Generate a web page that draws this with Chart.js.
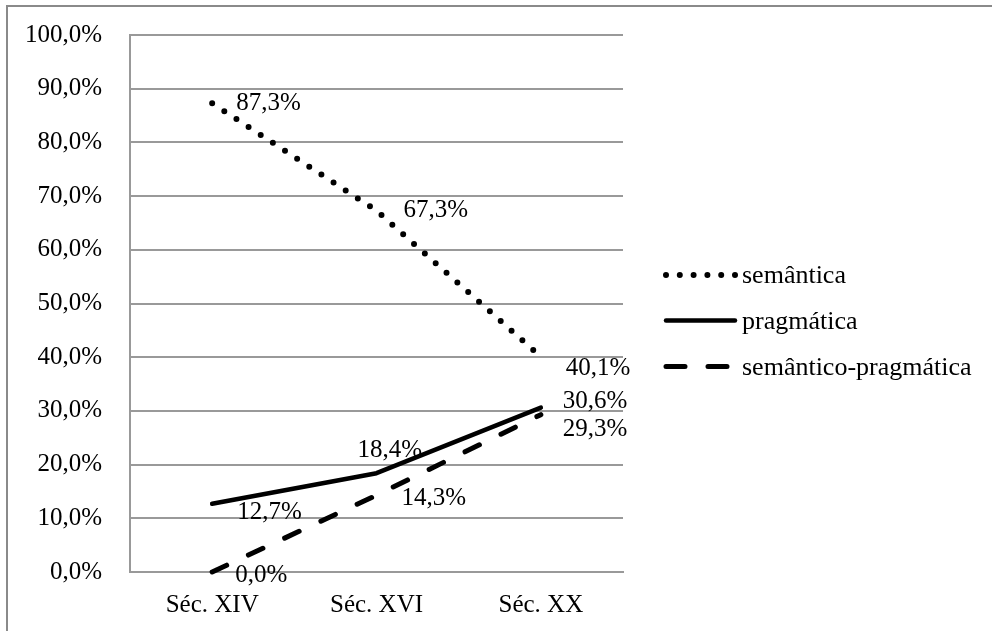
<!DOCTYPE html>
<html>
<head>
<meta charset="utf-8">
<script src="https://cdn.jsdelivr.net/npm/chart.js@4/dist/chart.umd.min.js"></script>
<style>
  html, body { margin: 0; padding: 0; background: #ffffff; }
  #wrap { width: 992px; height: 631px; position: relative; }
</style>
</head>
<body>
<div id="wrap"><canvas id="chart" width="992" height="631"></canvas></div>
<script>
// Century groups on the category axis
const categories = ['Séc. XIV', 'Séc. XVI', 'Séc. XX'];

// Share of each reading per century (percent)
const semantica = [87.3, 67.3, 40.1];
const pragmatica = [12.7, 18.4, 30.6];
const semanticoPragmatica = [0.0, 14.3, 29.3];

// Series names
const seriesNames = ['semântica', 'pragmática', 'semântico-pragmática'];

// Value axis ticks
const yTicks = [0, 10, 20, 30, 40, 50, 60, 70, 80, 90, 100];

// Label nudges (px) relative to each point, per series
const labelOffsets = [
  [[24, 0], [27, 0], [25, 12]],
  [[25, 9], [-19, -23], [22, -6]],
  [[23, 3], [25, 3], [22, 15]]
];

const FONT = '"Liberation Serif", "Times New Roman", serif';
const FONT_SIZE = 25;
const LEGEND_FONT_SIZE = 26;
const fmt = v => v.toFixed(1).replace('.', ',') + '%';

const dashStyles = [
  { dash: [0, 14.5], cap: 'round', width: 6 },
  { dash: [], cap: 'round', width: 4.5 },
  { dash: [16, 24], cap: 'round', width: 5 }
];

const seriesData = [semantica, pragmatica, semanticoPragmatica];

const frameAndLegend = {
  id: 'frameAndLegend',
  afterDraw(chart) {
    const ctx = chart.ctx;
    ctx.save();
    // outer frame
    ctx.strokeStyle = '#8a8a8a';
    ctx.lineWidth = 2;
    ctx.beginPath();
    ctx.moveTo(7, 640);
    ctx.lineTo(7, 6);
    ctx.lineTo(1000, 6);
    ctx.stroke();

    // legend
    const legendY = [275, 320.5, 366.5];
    ctx.fillStyle = '#000';
    ctx.font = LEGEND_FONT_SIZE + 'px ' + FONT;
    ctx.textAlign = 'left';
    ctx.textBaseline = 'alphabetic';
    seriesNames.forEach((name, i) => {
      const st = dashStyles[i];
      ctx.strokeStyle = '#000';
      ctx.lineWidth = st.width;
      ctx.lineCap = st.cap;
      ctx.setLineDash(i === 0 ? [0, 13.8] : (i === 2 ? [19, 23] : []));
      ctx.beginPath();
      if (i === 0) { ctx.moveTo(666, legendY[i]); ctx.lineTo(738, legendY[i]); }
      else if (i === 1) { ctx.moveTo(666, legendY[i]); ctx.lineTo(735, legendY[i]); }
      else { ctx.moveTo(666, legendY[i]); ctx.lineTo(727, legendY[i]); }
      ctx.stroke();
      ctx.setLineDash([]);
      ctx.fillText(name, 742, legendY[i] + 8);
    });

    // value labels
    ctx.font = FONT_SIZE + 'px ' + FONT;
    ctx.textBaseline = 'middle';
    chart.data.datasets.forEach((ds, di) => {
      const meta = chart.getDatasetMeta(di);
      meta.data.forEach((pt, pi) => {
        const [dx, dy] = labelOffsets[di][pi];
        ctx.fillText(fmt(ds.data[pi]), pt.x + dx, pt.y + dy);
      });
    });
    ctx.restore();
  }
};

new Chart(document.getElementById('chart'), {
  type: 'line',
  data: {
    labels: categories,
    datasets: seriesData.map((d, i) => ({
      label: seriesNames[i],
      data: d,
      borderColor: '#000',
      backgroundColor: '#000',
      borderWidth: dashStyles[i].width,
      borderDash: dashStyles[i].dash,
      borderCapStyle: dashStyles[i].cap,
      borderJoinStyle: 'round',
      pointRadius: 0,
      pointHoverRadius: 0,
      tension: 0,
      fill: false,
      clip: false
    }))
  },
  options: {
    responsive: false,
    animation: false,
    events: [],
    layout: { padding: { left: 0, right: 369, top: 35, bottom: 0 } },
    plugins: {
      legend: { display: false },
      tooltip: { enabled: false }
    },
    scales: {
      x: {
        offset: true,
        grid: { display: false, drawTicks: false },
        border: { display: true, color: '#999', width: 2 },
        ticks: {
          color: '#000',
          font: { family: FONT, size: FONT_SIZE },
          padding: 18,
          maxRotation: 0
        },
        afterFit(scale) { scale.height = 59; scale.paddingLeft = 0; scale.paddingRight = 0; }
      },
      y: {
        min: 0,
        max: 100,
        afterBuildTicks(scale) { scale.ticks = yTicks.map(v => ({ value: v })); },
        grid: { color: '#999', lineWidth: 2, drawTicks: false },
        border: { display: true, color: '#999', width: 2 },
        ticks: {
          color: '#000',
          font: { family: FONT, size: FONT_SIZE },
          padding: 28,
          callback: v => fmt(v)
        },
        afterFit(scale) { scale.width = 130; scale.paddingTop = 0; scale.paddingBottom = 0; }
      }
    }
  },
  plugins: [frameAndLegend]
});
</script>
</body>
</html>
